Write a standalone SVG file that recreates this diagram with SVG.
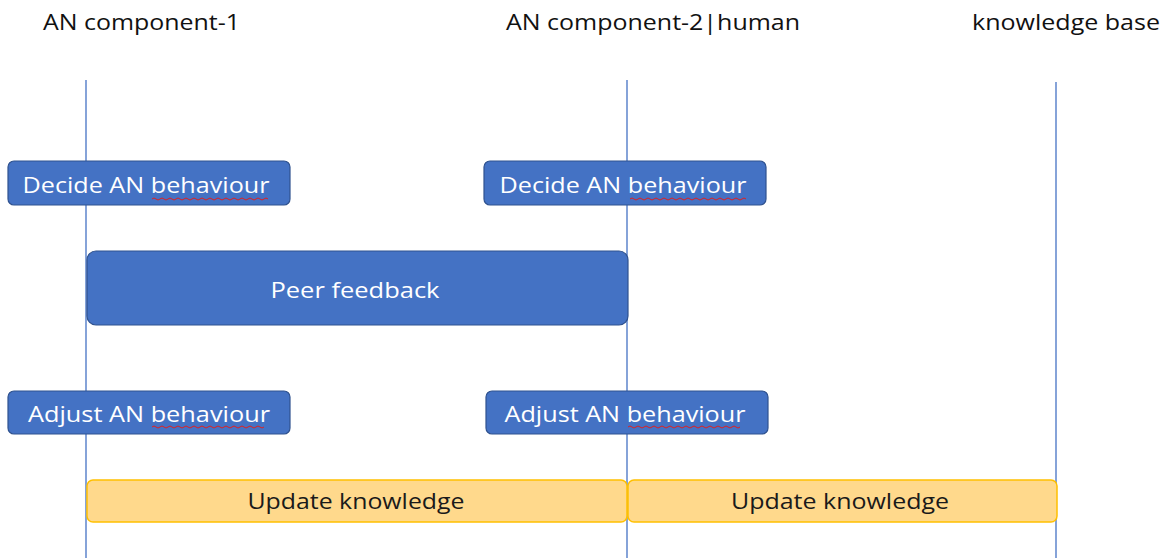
<svg xmlns="http://www.w3.org/2000/svg" width="1167" height="558" viewBox="0 0 1167 558">
<style>
.hdr{font-family:"Open Sans","Liberation Sans",sans-serif;font-size:22px;fill:#111}
.blue rect{fill:#4472C4;stroke:#2F528F;stroke-width:1.2}
.blue text{font-family:"Open Sans","Liberation Sans",sans-serif;font-size:22px;fill:#fff;text-anchor:middle}
.yel rect{fill:#FFD98C;stroke:#FFC000;stroke-width:1.5}
.yel text{font-family:"Open Sans","Liberation Sans",sans-serif;font-size:22px;fill:#1a1a1a;text-anchor:middle}
.life{stroke:#4472C4;stroke-width:1.3}
.sq{fill:none;stroke:#e02020;stroke-width:1}
</style>
<rect width="1167" height="558" fill="#fff"/>
<g id="headers">
<text class="hdr" x="43" y="30" textLength="197" lengthAdjust="spacingAndGlyphs">AN component-1</text>
<text class="hdr" x="506" y="30" textLength="294" lengthAdjust="spacingAndGlyphs">AN component-2|human</text>
<text class="hdr" x="972" y="30" textLength="188" lengthAdjust="spacingAndGlyphs">knowledge base</text>
</g>
<g id="connectors">
<line class="life" x1="86" y1="80" x2="86" y2="558"/>
<line class="life" x1="627" y1="80" x2="627" y2="558"/>
<line class="life" x1="1056" y1="82" x2="1056" y2="558"/>
</g>
<g id="decide1" class="blue">
<rect x="8" y="161" width="282" height="44" rx="6"/>
<text x="146" y="193" textLength="247" lengthAdjust="spacingAndGlyphs">Decide AN behaviour</text>
<path class="sq" d="M152 199 q2 -2 4 0 t4 0 t4 0 t4 0 t4 0 t4 0 t4 0 t4 0 t4 0 t4 0 t4 0 t4 0 t4 0 t4 0 t4 0 t4 0 t4 0 t4 0 t4 0 t4 0 t4 0 t4 0 t4 0 t4 0 t4 0 t4 0 t4 0 t4 0 t4 0"/>
</g>
<g id="decide2" class="blue">
<rect x="484" y="161" width="282" height="44" rx="6"/>
<text x="623" y="193" textLength="247" lengthAdjust="spacingAndGlyphs">Decide AN behaviour</text>
<path class="sq" d="M630 199 q2 -2 4 0 t4 0 t4 0 t4 0 t4 0 t4 0 t4 0 t4 0 t4 0 t4 0 t4 0 t4 0 t4 0 t4 0 t4 0 t4 0 t4 0 t4 0 t4 0 t4 0 t4 0 t4 0 t4 0 t4 0 t4 0 t4 0 t4 0 t4 0 t4 0"/>
</g>
<g id="peer" class="blue">
<rect x="87" y="251" width="541" height="74" rx="9"/>
<text x="355" y="298" textLength="169" lengthAdjust="spacingAndGlyphs">Peer feedback</text>
</g>
<g id="adjust1" class="blue">
<rect x="8" y="391" width="282" height="43" rx="6"/>
<text x="149" y="422" textLength="242" lengthAdjust="spacingAndGlyphs">Adjust AN behaviour</text>
<path class="sq" d="M152 427 q2 -2 4 0 t4 0 t4 0 t4 0 t4 0 t4 0 t4 0 t4 0 t4 0 t4 0 t4 0 t4 0 t4 0 t4 0 t4 0 t4 0 t4 0 t4 0 t4 0 t4 0 t4 0 t4 0 t4 0 t4 0 t4 0 t4 0 t4 0 t4 0"/>
</g>
<g id="adjust2" class="blue">
<rect x="486" y="391" width="282" height="43" rx="6"/>
<text x="625" y="422" textLength="241" lengthAdjust="spacingAndGlyphs">Adjust AN behaviour</text>
<path class="sq" d="M628 427 q2 -2 4 0 t4 0 t4 0 t4 0 t4 0 t4 0 t4 0 t4 0 t4 0 t4 0 t4 0 t4 0 t4 0 t4 0 t4 0 t4 0 t4 0 t4 0 t4 0 t4 0 t4 0 t4 0 t4 0 t4 0 t4 0 t4 0 t4 0 t4 0"/>
</g>
<g id="update1" class="yel">
<rect x="87" y="480" width="540" height="42" rx="6"/>
<text x="356" y="509" textLength="217" lengthAdjust="spacingAndGlyphs">Update knowledge</text>
</g>
<g id="update2" class="yel">
<rect x="628" y="480" width="429" height="42" rx="6"/>
<text x="840" y="509" textLength="218" lengthAdjust="spacingAndGlyphs">Update knowledge</text>
</g>
</svg>
